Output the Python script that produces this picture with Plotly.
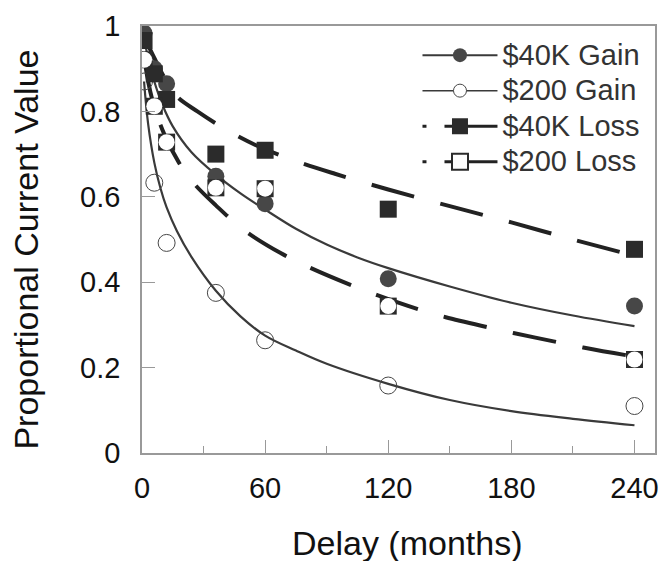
import plotly.graph_objects as go

# ---- data ----
delays = [1, 6, 12, 36, 60, 120, 240]
gain_40k = [0.983, 0.900, 0.865, 0.648, 0.584, 0.408, 0.344]
gain_200 = [0.870, 0.633, 0.492, 0.375, 0.264, 0.158, 0.110]
loss_40k = [0.966, 0.888, 0.828, 0.700, 0.709, 0.571, 0.477]
loss_200 = [0.921, 0.812, 0.728, 0.621, 0.619, 0.344, 0.219]

# fitted curves
fit_gain_40k_d = [1, 3, 6, 10, 15, 24, 36, 48, 60, 75, 90, 105, 120, 150, 180, 210, 240]
fit_gain_40k_v = [0.97, 0.925, 0.87, 0.815, 0.765, 0.705, 0.652, 0.608, 0.570, 0.525, 0.488, 0.458, 0.433, 0.390, 0.352, 0.322, 0.297]
fit_gain_200_d = [1, 3, 6, 9, 12, 17, 24, 36, 48, 60, 75, 90, 120, 150, 180, 210, 240]
fit_gain_200_v = [0.87, 0.77, 0.68, 0.62, 0.575, 0.52, 0.46, 0.38, 0.32, 0.275, 0.24, 0.209, 0.162, 0.124, 0.098, 0.080, 0.065]
fit_loss_40k_d = [1, 6, 12, 17, 27, 40, 55, 73, 94, 120, 150, 180, 210, 240]
fit_loss_40k_v = [0.975, 0.925, 0.87, 0.835, 0.80, 0.76, 0.722, 0.687, 0.654, 0.617, 0.578, 0.54, 0.50, 0.462]
fit_loss_200_d = [1, 3, 6, 11, 18, 25, 36, 50, 68, 81, 102, 115, 135, 148, 169, 181, 202, 215, 236, 240]
fit_loss_200_v = [0.93, 0.87, 0.81, 0.745, 0.68, 0.633, 0.58, 0.521, 0.467, 0.436, 0.393, 0.369, 0.336, 0.318, 0.294, 0.281, 0.26, 0.247, 0.229, 0.226]

series_names = ["$40K Gain", "$200 Gain", "$40K Loss", "$200 Loss"]
x_ticks = [0, 60, 120, 180, 240]
x_title = "Delay (months)"
y_title = "Proportional Current Value"

# ---- styles ----
FONT = "Liberation Sans, Arial, Helvetica, sans-serif"
C_CIRCLE = "#474747"
C_SQUARE = "#2b2b2b"
C_LINE = "#3a3a3a"
C_DASH = "#222222"
DASH = "44px,27px"


def big(name):
    return '<span style="font-size:29px">' + name + '</span>'


fig = go.Figure()

# fitted curves
fig.add_trace(go.Scatter(x=fit_gain_40k_d, y=fit_gain_40k_v, mode="lines", line=dict(color=C_LINE, width=2.2, shape="spline"), showlegend=False, hoverinfo="skip"))
fig.add_trace(go.Scatter(x=fit_gain_200_d, y=fit_gain_200_v, mode="lines", line=dict(color=C_LINE, width=2.2, shape="spline"), showlegend=False, hoverinfo="skip"))
fig.add_trace(go.Scatter(x=fit_loss_40k_d, y=fit_loss_40k_v, mode="lines", line=dict(color=C_DASH, width=4, dash=DASH, shape="spline"), showlegend=False, hoverinfo="skip"))
fig.add_trace(go.Scatter(x=fit_loss_200_d, y=fit_loss_200_v, mode="lines", line=dict(color=C_DASH, width=4, dash=DASH, shape="spline"), showlegend=False, hoverinfo="skip"))

# data markers
fig.add_trace(go.Scatter(x=delays, y=gain_200, mode="markers", showlegend=False,
                         marker=dict(symbol="circle-open", size=17, color=C_CIRCLE, line=dict(width=1))))
fig.add_trace(go.Scatter(x=delays, y=gain_40k, mode="markers", showlegend=False,
                         marker=dict(symbol="circle", size=17, color=C_CIRCLE, line=dict(width=0))))
fig.add_trace(go.Scatter(x=delays, y=loss_40k, mode="markers", showlegend=False,
                         marker=dict(symbol="square", size=17, color=C_SQUARE, line=dict(width=0))))
fig.add_trace(go.Scatter(x=delays, y=loss_200, mode="markers", showlegend=False,
                         marker=dict(symbol="square", size=17, color=C_SQUARE, line=dict(width=0))))
fig.add_trace(go.Scatter(x=delays, y=loss_200, mode="markers", showlegend=False,
                         marker=dict(symbol="circle", size=16, color="white", line=dict(width=0))))

# legend entries
fig.add_trace(go.Scatter(x=[None], y=[None], mode="lines+markers", name=big(series_names[0]),
                         line=dict(color=C_LINE, width=2),
                         marker=dict(symbol="circle", size=14, color=C_CIRCLE)))
fig.add_trace(go.Scatter(x=[None], y=[None], mode="lines+markers", name=big(series_names[1]),
                         line=dict(color=C_LINE, width=1.5),
                         marker=dict(symbol="circle", size=13, color="white", line=dict(color=C_CIRCLE, width=1))))
fig.add_trace(go.Scatter(x=[None], y=[None], mode="lines+markers", name=big(series_names[2]),
                         line=dict(color=C_DASH, width=3, dash="4px,18px,80px"),
                         marker=dict(symbol="square", size=16, color=C_SQUARE)))
fig.add_trace(go.Scatter(x=[None], y=[None], mode="lines+markers", name=big(series_names[3]),
                         line=dict(color=C_DASH, width=3, dash="4px,18px,80px"),
                         marker=dict(symbol="square", size=16, color="white", line=dict(color=C_SQUARE, width=2))))

fig.update_layout(
    width=669, height=561,
    margin=dict(l=142, r=10, t=26, b=108),
    paper_bgcolor="white", plot_bgcolor="white",
    font=dict(family=FONT, color="#111111"),
    showlegend=True,
    legend=dict(x=0.537, y=0.985, xanchor="left", yanchor="top",
                bgcolor="rgba(0,0,0,0)", borderwidth=0,
                font=dict(size=25, color="#333333", family=FONT),
                itemwidth=75, itemsizing="trace", tracegroupgap=0),
    annotations=[
        dict(text=x_title, xref="paper", yref="paper", x=0.518, y=-0.211,
             xanchor="center", yanchor="middle", showarrow=False,
             font=dict(size=34, color="#111111", family=FONT)),
        dict(text=y_title, xref="paper", yref="paper", x=-0.226, y=0.4766,
             xanchor="center", yanchor="middle", showarrow=False, textangle=-90,
             font=dict(size=34, color="#111111", family=FONT)),
    ],
)

fig.update_xaxes(
    range=[0, 250], tickvals=x_ticks, ticktext=[str(t) for t in x_ticks],
    ticks="inside", ticklen=13, tickwidth=1, tickcolor="#999999",
    showline=True, linecolor="#999999", linewidth=1.5, mirror=True,
    showgrid=False, zeroline=False,
    tickfont=dict(size=29, color="#111111"), ticklabelstandoff=8,
    minor=dict(dtick=30, tick0=30, ticks="inside", ticklen=7, tickcolor="#999999", tickwidth=1, showgrid=False),
)
fig.update_yaxes(
    range=[0, 1], dtick=0.2, tick0=0,
    ticks="inside", ticklen=13, tickwidth=1, tickcolor="#999999",
    showline=True, linecolor="#999999", linewidth=1.5, mirror=True,
    showgrid=False, zeroline=False,
    tickfont=dict(size=29, color="#111111"), ticklabelstandoff=14,
)

fig.write_html("out.html")
